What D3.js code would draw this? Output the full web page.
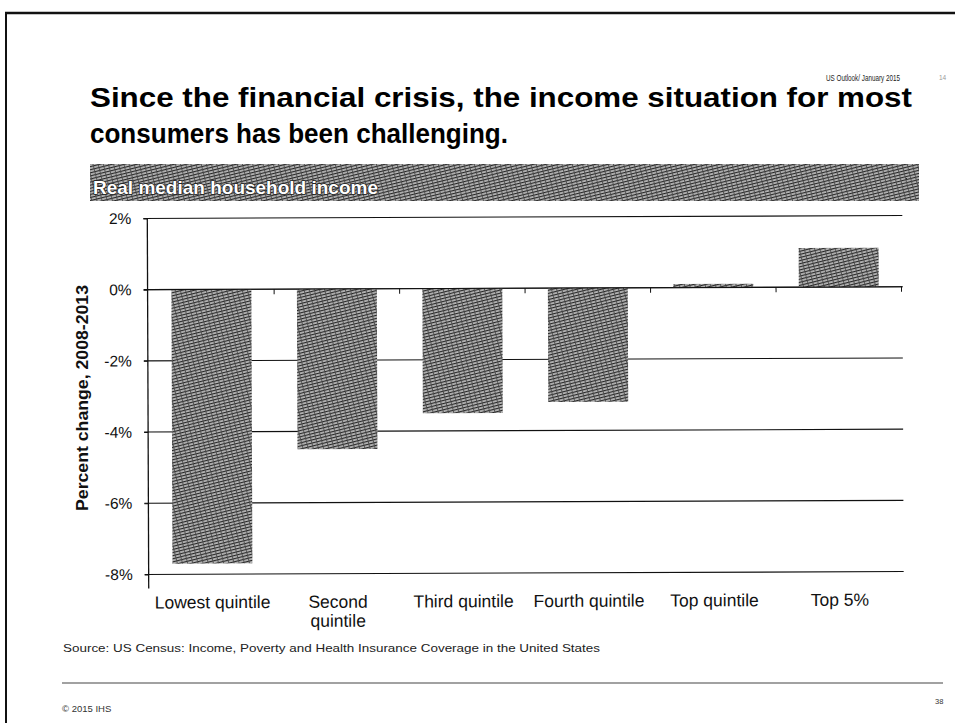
<!DOCTYPE html>
<html>
<head>
<meta charset="utf-8">
<script src="https://cdn.jsdelivr.net/npm/d3@7"></script>
<style>
  html, body { margin: 0; padding: 0; background: #fff; }
  svg { display: block; font-family: "Liberation Sans", Arial, Helvetica, sans-serif; }
</style>
</head>
<body>
<svg id="page" width="955" height="723"></svg>
<script>
// Real median household income, percent change 2008-2013, by income group
const categories = ["Lowest quintile", "Second quintile", "Third quintile", "Fourth quintile", "Top quintile", "Top 5%"];
const categoryLines = [["Lowest quintile"], ["Second", "quintile"], ["Third quintile"], ["Fourth quintile"], ["Top quintile"], ["Top 5%"]];
const changes = [-7.7, -4.5, -3.5, -3.2, 0.1, 1.1];
const yTicks = [2, 0, -2, -4, -6, -8];

const svg = d3.select("#page");
const defs = svg.append("defs");

// Dense printed hatch used for the bars and the section banner
const hatch = defs.append("pattern")
  .attr("id", "hatch")
  .attr("patternUnits", "userSpaceOnUse")
  .attr("width", 5).attr("height", 3)
  .attr("patternTransform", "rotate(-14)");
hatch.append("rect").attr("width", 5).attr("height", 3).attr("fill", "#b4b4b4");
hatch.append("rect").attr("y", 0).attr("width", 5).attr("height", 1.1).attr("fill", "#262626");
hatch.append("rect").attr("x", 0).attr("width", 0.9).attr("height", 3).attr("fill", "#4a4a4a");

// Page frame (top and left edges)
svg.append("line").attr("x1", 5).attr("x2", 955).attr("y1", 13).attr("y2", 13)
  .attr("stroke", "#111").attr("stroke-width", 2.5);
svg.append("line").attr("x1", 6).attr("x2", 6).attr("y1", 13).attr("y2", 723)
  .attr("stroke", "#111").attr("stroke-width", 2);

// Header
svg.append("text").attr("x", 826).attr("y", 81)
  .attr("font-size", 8.5).attr("fill", "#222")
  .attr("textLength", 74).attr("lengthAdjust", "spacingAndGlyphs")
  .text("US Outlook/ January 2015");
svg.append("text").attr("x", 939).attr("y", 80)
  .attr("font-size", 6.5).attr("fill", "#999").text("14");

const title = svg.append("g").attr("font-weight", "bold").attr("font-size", 27).attr("fill", "#000");
title.append("text").attr("x", 90).attr("y", 107)
  .attr("textLength", 822).attr("lengthAdjust", "spacingAndGlyphs")
  .text("Since the financial crisis, the income situation for most");
title.append("text").attr("x", 90).attr("y", 143)
  .attr("textLength", 418).attr("lengthAdjust", "spacingAndGlyphs")
  .text("consumers has been challenging.");

// Section banner
svg.append("rect").attr("x", 90).attr("y", 164).attr("width", 829).attr("height", 37)
  .attr("fill", "url(#hatch)");
svg.append("text").attr("x", 93).attr("y", 194)
  .attr("font-size", 19).attr("font-weight", "bold")
  .attr("textLength", 285).attr("lengthAdjust", "spacingAndGlyphs")
  .attr("fill", "#fff").attr("stroke", "#222").attr("stroke-width", 1.4)
  .attr("paint-order", "stroke")
  .text("Real median household income");

// Chart
const plot = { left: 148, right: 903, top: 217, bottom: 573 };
const x = d3.scaleBand().domain(categories)
  .range([plot.left, plot.right]).paddingInner(0.363).paddingOuter(0.19);
const y = d3.scaleLinear().domain([-8, 2]).range([plot.bottom, plot.top]);

const chart = svg.append("g").attr("transform", "rotate(-0.22, 525, 400)");

// Horizontal grid lines
chart.append("g").selectAll("line").data(yTicks).join("line")
  .attr("x1", plot.left - 4).attr("x2", plot.right)
  .attr("y1", d => y(d)).attr("y2", d => y(d))
  .attr("stroke", "#111").attr("stroke-width", 1.1);

// Bars
chart.append("g").selectAll("rect").data(categories).join("rect")
  .attr("x", d => x(d))
  .attr("width", x.bandwidth())
  .attr("y", (d, i) => y(Math.max(0, changes[i])))
  .attr("height", (d, i) => Math.abs(y(changes[i]) - y(0)))
  .attr("fill", "url(#hatch)");

// Zero line drawn over the bars
chart.append("line").attr("x1", plot.left).attr("x2", plot.right)
  .attr("y1", y(0)).attr("y2", y(0)).attr("stroke", "#111").attr("stroke-width", 1.2);

// Category boundary ticks on the zero line
const step = x.step();
const boundaries = categories.map(c => x(c) + x.bandwidth() + (step - x.bandwidth()) / 2);
chart.append("g").selectAll("line").data(boundaries).join("line")
  .attr("x1", d => d).attr("x2", d => d)
  .attr("y1", y(0)).attr("y2", y(0) + 5)
  .attr("stroke", "#111").attr("stroke-width", 1);

// Y axis
const yAxis = chart.append("g").attr("transform", `translate(${plot.left},0)`)
  .call(d3.axisLeft(y).tickValues(yTicks).tickSize(4).tickPadding(12)
    .tickFormat(d => d + "%"));
yAxis.select(".domain").attr("stroke", "#111").attr("stroke-width", 1.3)
  .attr("d", `M0,${plot.top}V${plot.bottom + 14}`);
yAxis.selectAll(".tick line").attr("stroke", "#111");
yAxis.selectAll(".tick text").attr("font-size", 15.5).attr("fill", "#111")
  .attr("font-family", "Liberation Sans, Arial, sans-serif");

// Category labels
const xl = chart.append("g").attr("font-size", 17.5).attr("fill", "#111").attr("text-anchor", "middle");
categories.forEach((c, i) => {
  const t = xl.append("text").attr("x", x(c) + x.bandwidth() / 2).attr("y", 607);
  categoryLines[i].forEach((line, j) => {
    t.append("tspan").attr("x", x(c) + x.bandwidth() / 2).attr("dy", j ? 19 : 0).text(line);
  });
});

// Y axis title
svg.append("text")
  .attr("transform", "translate(88,398) rotate(-90)")
  .attr("text-anchor", "middle").attr("font-size", 16.5).attr("font-weight", "bold")
  .attr("textLength", 226).attr("lengthAdjust", "spacingAndGlyphs")
  .attr("fill", "#111").text("Percent change, 2008-2013");

// Footer
svg.append("text").attr("x", 63).attr("y", 652).attr("font-size", 11.5).attr("fill", "#222")
  .attr("textLength", 537).attr("lengthAdjust", "spacingAndGlyphs")
  .text("Source: US Census: Income, Poverty and Health Insurance Coverage in the United States");
svg.append("line").attr("x1", 62).attr("x2", 943).attr("y1", 683).attr("y2", 683)
  .attr("stroke", "#444").attr("stroke-width", 1.2);
svg.append("text").attr("x", 62).attr("y", 712).attr("font-size", 9.5).attr("fill", "#333")
  .text("© 2015 IHS");
svg.append("text").attr("x", 935).attr("y", 704).attr("font-size", 7.5).attr("fill", "#333")
  .text("38");
</script>
</body>
</html>
